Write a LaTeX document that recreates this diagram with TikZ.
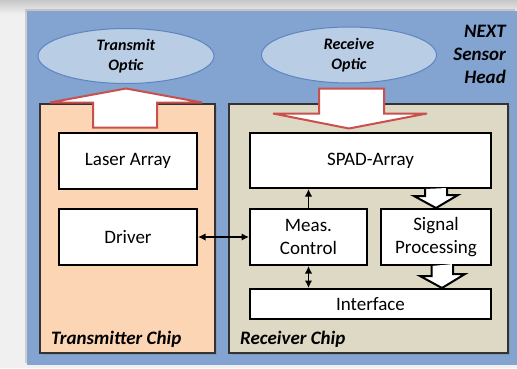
\documentclass[tikz,border=0pt]{standalone}
\usepackage{fontspec}
\setmainfont{Carlito}
\usetikzlibrary{shapes.geometric,arrows.meta,shadows}
\definecolor{headblue}{HTML}{83A3D0}
\definecolor{opticblue}{HTML}{B9CDE5}
\definecolor{opticline}{HTML}{5B86C0}
\definecolor{txpeach}{HTML}{FCD5B4}
\definecolor{rxtan}{HTML}{DDD9C4}
\definecolor{arrowred}{HTML}{C9504D}
\begin{document}
\begin{tikzpicture}[x=1pt,y=-1pt,>={Latex[length=7.5pt,width=7.5pt]},
	unitbox/.style={draw=black,line width=2pt,fill=white,inner sep=0pt,align=center,font=\fontsize{19}{23}\selectfont},
	chipbox/.style={draw=black!80,line width=1.2pt,inner sep=0pt,drop shadow={shadow xshift=1.5pt,shadow yshift=-1.5pt,opacity=0.35}},
	chiplabel/.style={anchor=base west,inner sep=0pt,font=\fontsize{19}{23}\selectfont\bfseries\itshape},
	optic/.style={ellipse,draw=opticline,line width=1pt,fill=opticblue,inner sep=0pt,align=center,font=\fontsize{16}{20}\selectfont\bfseries\itshape},
	redarrow/.style={draw=arrowred,line width=2pt,fill=white,line join=miter},
	hollow/.style={draw=black,line width=2pt,fill=white,line join=miter}]
	\useasboundingbox (0,0) rectangle (517,368);
	\shade[top color=black!22,bottom color=black!6] (0,0) rectangle (517,14);
	\fill[black!6] (0,14) rectangle (517,368);
	\fill[headblue,drop shadow={shadow xshift=-2pt,shadow yshift=2pt,opacity=0.3}] (27,11) rectangle (517,365);
	\node[optic,minimum width=176,minimum height=55] (txoptic) at (126,56) {Transmit\\Optic};
	\node[optic,minimum width=175,minimum height=56] (rxoptic) at (349,55) {Receive\\Optic};
	\node[anchor=north east,inner sep=0pt,align=right,font=\fontsize{19}{23}\selectfont\bfseries\itshape] (head) at (506,25) {NEXT\\Sensor\\Head};
	\node[chipbox,fill=txpeach,minimum width=175,minimum height=249] (txchip) at (127.5,228.5) {};
	\node[chipbox,fill=rxtan,minimum width=279,minimum height=249] (rxchip) at (368.5,228.5) {};
	\node[chiplabel] (txlabel) at (51,344) {Transmitter Chip};
	\node[chiplabel] (rxlabel) at (240,344) {Receiver Chip};
	\node[unitbox,minimum width=138,minimum height=56] (laser) at (128,161) {Laser Array};
	\node[unitbox,minimum width=138,minimum height=56] (driver) at (128,237) {Driver};
	\node[unitbox,minimum width=241,minimum height=55] (spad) at (370.5,160.5) {SPAD-Array};
	\node[unitbox,minimum width=117,minimum height=56] (meas) at (308.5,237) {Meas.\\Control};
	\node[unitbox,minimum width=110,minimum height=56] (sigproc) at (436,237) {Signal\\Processing};
	\node[unitbox,minimum width=241,minimum height=30] (iface) at (370.5,304) {Interface};
	\draw[redarrow] ([yshift=-4.5pt]txoptic.south) -- ++(76,14) -- ++(-45,0) -- ++(0,25) -- ++(-64,0) -- ++(0,-25) -- ++(-43,0) -- cycle;
	\draw[redarrow] ([xshift=-30pt,yshift=-5pt]rxoptic.south) -- ++(65,0) -- ++(0,25) -- ++(43,0) -- ++(-78,15) -- ++(-76,-15) -- ++(46,0) -- cycle;
	\draw[hollow] ([xshift=-11pt]spad.south -| sigproc.north) -- ++(0,7) -- ++(-11,0) -- (sigproc.north) -- ++(22,-13) -- ++(-11,0) -- ++(0,-7);
	\draw[hollow] ([xshift=-4.5pt]sigproc.south) -- ++(0,10) -- ++(-11.5,0) -- ([xshift=6pt]sigproc.south |- iface.north) -- ++(23,-14) -- ++(-12,0) -- ++(0,-10);
	\draw[<->,line width=1.5pt] (driver.east) -- (meas.west);
	\draw[->,line width=1.5pt] (meas.north) -- (meas.north |- spad.south);
	\draw[<->,line width=1.5pt] (meas.south) -- (meas.south |- iface.north);
\end{tikzpicture}
\end{document}
